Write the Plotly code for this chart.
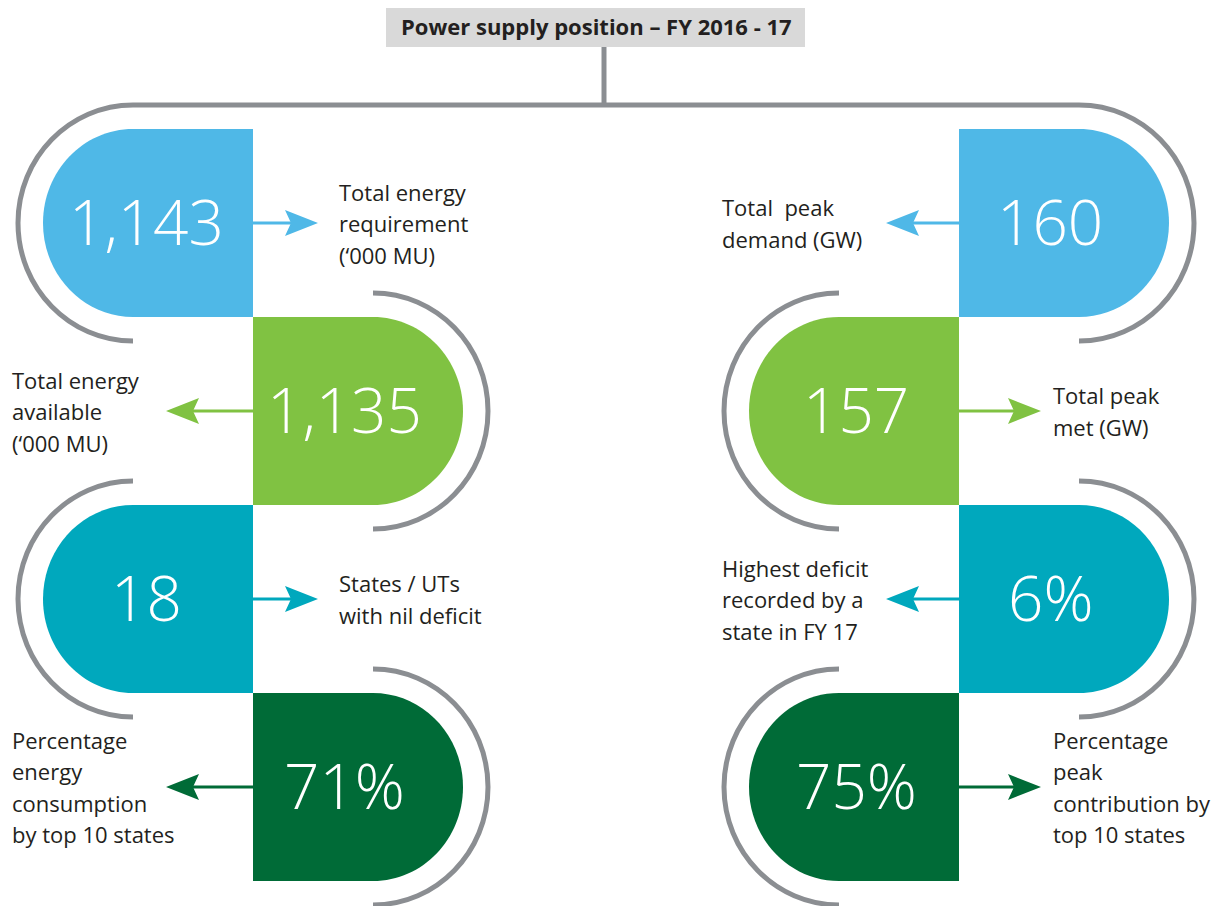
import plotly.graph_objects as go

# ---- data -------------------------------------------------------------
title_text = "Power supply position – FY 2016 - 17"

left_values = ["1,143", "1,135", "18", "71%"]
left_labels = [
    ["Total energy", "requirement", "(‘000 MU)"],
    ["Total energy", "available", "(‘000 MU)"],
    ["States / UTs", "with nil deficit"],
    ["Percentage", "energy", "consumption", "by top 10 states"],
]

right_values = ["160", "157", "6%", "75%"]
right_labels = [
    ["Total\u00a0 peak", "demand (GW)"],
    ["Total peak", "met (GW)"],
    ["Highest deficit", "recorded by a", "state in FY 17"],
    ["Percentage", "peak", "contribution by", "top 10 states"],
]

row_colors = ["#4fb8e7", "#80c242", "#00a8bd", "#006b37"]

# ---- layout geometry --------------------------------------------------
W, H = 1225, 906
PAGE_PAD = 8                # body margin of the html page
GRAY = "#8b8e92"
TXT = "#231f20"
ROW_TOP, ROW_H = 129, 188
SEAMS = [253, 959]          # x where the pills of one column meet
ECX_OFF = 120               # seam -> centre of the rounded end
PILL_RX, PILL_RY = 90, 94
ARC_RX, ARC_RY = 115, 118
K = 0.5523

# per (column, side) tweaks: arrow length, label x, number x offset
ARROW_LEN = {(0, -1): 65, (0, 1): 87, (1, 1): 73, (1, -1): 82}
LABEL_X = {(0, -1): 337, (0, 1): 10, (1, 1): 720, (1, -1): 1051}
NUM_DX = {(0, -1): -107, (0, 1): 91, (1, 1): 91, (1, -1): -103}
LINE_GAP = 31.5


def half_ellipse(cx, cy, rx, ry, s):
    return (f"M {cx},{cy - ry} C {cx + s * K * rx},{cy - ry} {cx + s * rx},{cy - K * ry} {cx + s * rx},{cy} "
            f"C {cx + s * rx},{cy + K * ry} {cx + s * K * rx},{cy + ry} {cx},{cy + ry}")


fig = go.Figure()
shapes = []
annotations = []

# title box and connector
shapes.append(dict(type="rect", x0=386, x1=805, y0=5, y1=47, fillcolor="#d9d9d9", line=dict(width=0)))
annotations.append(dict(x=596, y=26, text=f"<b>{title_text}</b>", showarrow=False,
                        font=dict(family="Open Sans", size=22, color=TXT)))
top_y = ROW_TOP + ROW_H / 2 - ARC_RY
shapes.append(dict(type="line", x0=604, x1=604, y0=47, y1=top_y, line=dict(color=GRAY, width=5)))
shapes.append(dict(type="line", x0=SEAMS[0] - ECX_OFF, x1=SEAMS[1] + ECX_OFF, y0=top_y, y1=top_y,
                   line=dict(color=GRAY, width=5)))

for col, (values, labels) in enumerate([(left_values, left_labels), (right_values, right_labels)]):
    seam = SEAMS[col]
    for i, (val, lines) in enumerate(zip(values, labels)):
        s = (-1 if col == 0 else 1) * (1 if i % 2 == 0 else -1)
        cy = ROW_TOP + ROW_H * i + ROW_H / 2
        top, bot = cy - PILL_RY, cy + PILL_RY
        ecx = seam + s * ECX_OFF
        color = row_colors[i]

        # pill: rectangle plus rounded end
        pill = (f"M {seam},{top} L {ecx},{top} C {ecx + s * K * PILL_RX},{top} {ecx + s * PILL_RX},{cy - K * PILL_RY} "
                f"{ecx + s * PILL_RX},{cy} C {ecx + s * PILL_RX},{cy + K * PILL_RY} {ecx + s * K * PILL_RX},{bot} "
                f"{ecx},{bot} L {seam},{bot} Z")
        shapes.append(dict(type="path", path=pill, fillcolor=color, line=dict(width=0), layer="below"))

        # outline arc
        shapes.append(dict(type="path", path=half_ellipse(ecx, cy, ARC_RX, ARC_RY, s),
                           line=dict(color=GRAY, width=5)))

        # arrow
        d = -s
        tip = seam + d * ARROW_LEN[(col, s)]
        shapes.append(dict(type="line", x0=seam, x1=tip - d * 25, y0=cy, y1=cy, line=dict(color=color, width=3)))
        head = (f"M {tip},{cy} L {tip - d * 33},{cy - 13} L {tip - d * 27},{cy} "
                f"L {tip - d * 33},{cy + 13} Z")
        shapes.append(dict(type="path", path=head, fillcolor=color, line=dict(width=0)))

        # big number
        annotations.append(dict(x=seam + NUM_DX[(col, s)], y=cy - 2, text=val, showarrow=False,
                                xanchor="center", yanchor="middle",
                                font=dict(family="Open Sans", size=62, color="white", weight=300)))

        # label lines
        n = len(lines)
        for j, line in enumerate(lines):
            ly = cy + (j - (n - 1) / 2) * LINE_GAP
            annotations.append(dict(x=LABEL_X[(col, s)], y=ly, text=line, showarrow=False,
                                    xanchor="left", yanchor="middle",
                                    font=dict(family="Open Sans", size=22, color=TXT)))

fig.update_layout(
    width=W, height=H,
    margin=dict(l=0, r=0, t=0, b=0),
    paper_bgcolor="white", plot_bgcolor="white",
    # shift ranges so data units equal screen pixels despite the page margin
    xaxis=dict(range=[PAGE_PAD, W + PAGE_PAD], visible=False, fixedrange=True),
    yaxis=dict(range=[H + PAGE_PAD, PAGE_PAD], visible=False, fixedrange=True),
    shapes=shapes,
    annotations=annotations,
    showlegend=False,
)

fig.write_html("out.html")
